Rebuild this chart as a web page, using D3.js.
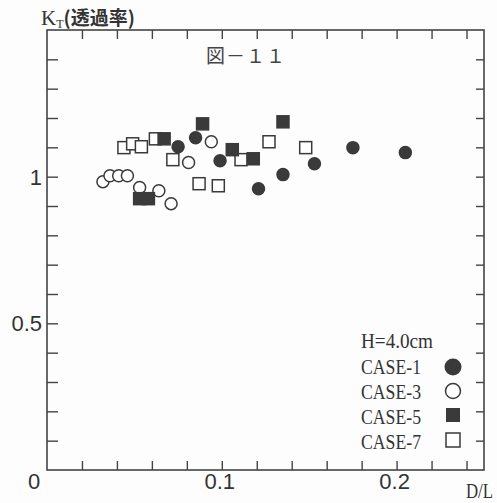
<!DOCTYPE html>
<html>
<head>
<meta charset="utf-8">
<script src="https://cdn.jsdelivr.net/npm/d3@7"></script>
<style>
  body { margin: 0; background: #fdfdfd; }
  svg { display: block; }
</style>
</head>
<body>
<svg id="chart" width="497" height="503"></svg>
<script>
// data (x = D/L, y = KT)
var case1 = [[0.075,1.102],[0.085,1.133],[0.099,1.054],[0.121,0.959],[0.135,1.007],[0.153,1.044],[0.175,1.099],[0.205,1.082]];
var case3 = [[0.032,0.983],[0.036,1.003],[0.041,1.003],[0.046,1.003],[0.053,0.963],[0.064,0.952],[0.071,0.908],[0.081,1.048],[0.094,1.119]];
var case5 = [[0.053,0.925],[0.058,0.925],[0.067,1.129],[0.089,1.180],[0.106,1.092],[0.118,1.061],[0.135,1.187]];
var case7 = [[0.044,1.099],[0.049,1.112],[0.054,1.102],[0.062,1.129],[0.072,1.058],[0.087,0.976],[0.098,0.969],[0.111,1.058],[0.127,1.119],[0.148,1.099]];

var xTicks = d3.range(0.02, 0.25, 0.02);
var yTicks = d3.range(0.1, 1.5, 0.1);
var xLabels = [0, 0.1, 0.2];
var yLabels = [0.5, 1];
var legendNames = ['CASE-1','CASE-3','CASE-5','CASE-7'];

var svg = d3.select('#chart');
var ink = '#444';

var x = d3.scaleLinear().domain([0, 0.25]).range([47, 484]);
var y = d3.scaleLinear().domain([0, 1.5]).range([470, 30]);

// frame
svg.append('rect')
  .attr('x', x(0)).attr('y', y(1.5))
  .attr('width', x(0.25) - x(0)).attr('height', y(0) - y(1.5))
  .attr('fill', 'none').attr('stroke', ink).attr('stroke-width', 1.6);

// inward ticks on all four sides
function ticks(axis, tr){
  var g = svg.append('g').attr('transform', tr).call(axis);
  g.select('.domain').remove();
  g.selectAll('text').remove();
  g.selectAll('line').attr('stroke', ink).attr('stroke-width', 1.4);
}
ticks(d3.axisBottom(x).tickValues(xTicks).tickSize(-9), 'translate(0,' + y(0) + ')');
ticks(d3.axisTop(x).tickValues(xTicks).tickSize(-9), 'translate(0,' + y(1.5) + ')');
ticks(d3.axisLeft(y).tickValues(yTicks).tickSize(-11), 'translate(' + x(0) + ',0)');
ticks(d3.axisRight(y).tickValues(yTicks).tickSize(-8), 'translate(' + x(0.25) + ',0)');

// tick labels
svg.selectAll('.xl').data(xLabels).enter().append('text')
  .attr('x', function(d){ return d === 0 ? x(d) - 13 : x(d) - 2; })
  .attr('y', 489)
  .attr('text-anchor', 'middle')
  .attr('font-family', 'Liberation Sans, Arial, sans-serif')
  .attr('font-size', 22).attr('fill', '#333')
  .text(function(d){ return d === 0 ? '0' : d3.format('.1f')(d); });

svg.selectAll('.yl').data(yLabels).enter().append('text')
  .attr('x', 42)
  .attr('y', function(d){ return y(d) + 8; })
  .attr('text-anchor', 'end')
  .attr('font-family', 'Liberation Sans, Arial, sans-serif')
  .attr('font-size', 22).attr('fill', '#333')
  .text(function(d){ return d === 1 ? '1' : d3.format('.1f')(d); });

// axis titles
svg.append('text').attr('x', 466).attr('y', 498)
  .attr('font-family', 'Liberation Serif, serif').attr('font-size', 20).attr('fill', '#333')
  .attr('textLength', 27).attr('lengthAdjust', 'spacingAndGlyphs')
  .text('D/L');

var kt = svg.append('text').attr('x', 41).attr('y', 25)
  .attr('font-family', 'Liberation Serif, serif').attr('font-size', 21).attr('fill', '#333');
kt.append('tspan').text('K');
kt.append('tspan').attr('font-size', 12).attr('dy', 3).text('T');
kt.append('tspan').attr('dy', -3).attr('font-family', 'Noto Sans CJK JP, sans-serif').attr('font-weight', 'bold').attr('font-size', 19).text('(透過率)');

svg.append('text').attr('x', 206).attr('y', 63)
  .attr('font-family', 'Noto Sans CJK JP, sans-serif').attr('font-size', 19).attr('fill', '#444')
  .attr('letter-spacing', 1)
  .text('図－１１');

// markers
function circles(data, fill){
  svg.append('g').selectAll('circle').data(data).enter().append('circle')
    .attr('cx', function(d){ return x(d[0]); })
    .attr('cy', function(d){ return y(d[1]); })
    .attr('r', 6)
    .attr('fill', fill ? '#3a3a3a' : '#fff')
    .attr('stroke', '#3a3a3a').attr('stroke-width', 1.5);
}
function squares(data, fill){
  var s = 12;
  svg.append('g').selectAll('rect').data(data).enter().append('rect')
    .attr('x', function(d){ return x(d[0]) - s / 2; })
    .attr('y', function(d){ return y(d[1]) - s / 2; })
    .attr('width', s).attr('height', s)
    .attr('fill', fill ? '#3a3a3a' : '#fff')
    .attr('stroke', '#3a3a3a').attr('stroke-width', 1.5);
}
squares(case7, false);
circles(case3, false);
squares(case5, true);
circles(case1, true);

// legend
var lg = svg.append('g').attr('font-family', 'Liberation Serif, serif').attr('fill', '#333');
lg.append('text').attr('x', 361).attr('y', 348).attr('font-size', 21)
  .attr('textLength', 72).attr('lengthAdjust', 'spacingAndGlyphs').text('H=4.0cm');
lg.selectAll('.ln').data(legendNames).enter().append('text')
  .attr('x', 361).attr('y', function(d, i){ return 374 + i * 25; })
  .attr('font-size', 21)
  .attr('textLength', 60).attr('lengthAdjust', 'spacingAndGlyphs')
  .text(function(d){ return d; });
lg.append('circle').attr('cx', 453).attr('cy', 367).attr('r', 8.5).attr('fill', '#3a3a3a');
lg.append('circle').attr('cx', 453).attr('cy', 391).attr('r', 7.5).attr('fill', '#fff').attr('stroke', '#3a3a3a').attr('stroke-width', 1.5);
lg.append('rect').attr('x', 446).attr('y', 408).attr('width', 14).attr('height', 14).attr('fill', '#3a3a3a');
lg.append('rect').attr('x', 446).attr('y', 433).attr('width', 14).attr('height', 14).attr('fill', '#fff').attr('stroke', '#3a3a3a').attr('stroke-width', 1.5);
</script>
</body>
</html>
